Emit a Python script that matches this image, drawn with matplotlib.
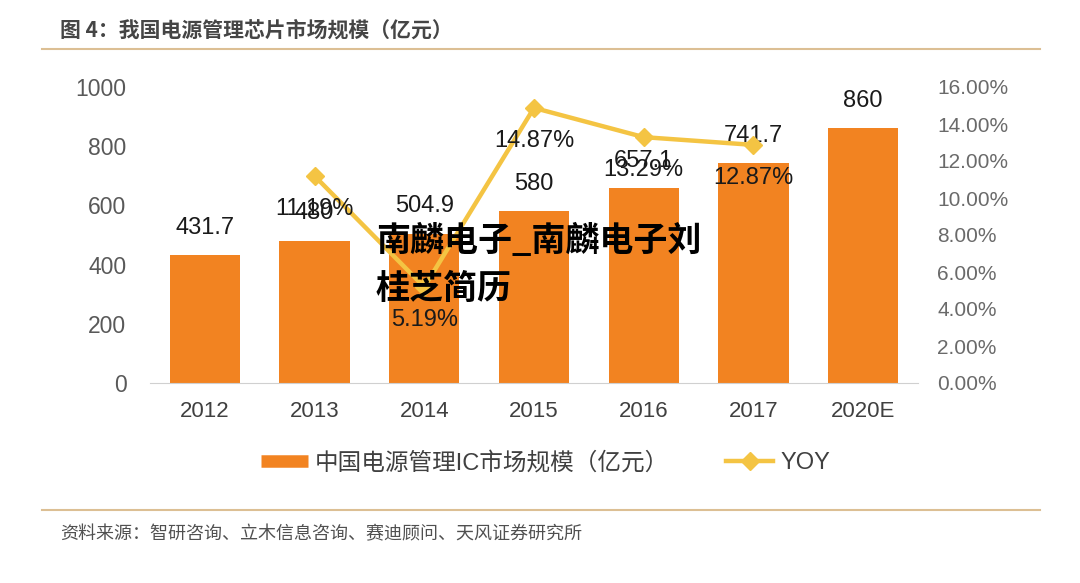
import matplotlib
matplotlib.use("Agg")
import matplotlib.pyplot as plt
from matplotlib.lines import Line2D

plt.rcParams['font.family'] = ['Liberation Sans', 'Noto Sans CJK SC', 'DejaVu Sans']

years = ["2012", "2013", "2014", "2015", "2016", "2017", "2020E"]
market = [431.7, 480, 504.9, 580, 657.1, 741.7, 860]
yoy_years = ["2013", "2014", "2015", "2016", "2017"]
yoy = [11.19, 5.19, 14.87, 13.29, 12.87]

bar_color = "#F28321"
line_color = "#F4C443"
cjk = ['Noto Sans CJK SC', 'DejaVu Sans']

fig = plt.figure(figsize=(10.8, 5.83), dpi=100)
ax = fig.add_axes([150/1080, 1-383/583, 768/1080, 296/583])
ax2 = ax.twinx()

x = list(range(len(years)))
ax.bar(x, market, width=0.64, color=bar_color, zorder=2)
for xi, v in zip(x, market):
    ax.annotate(f"{v:g}", (xi, v), xytext=(0, 12), textcoords="offset points",
                ha="center", va="bottom", fontsize=17, color="#1a1a1a", zorder=5)

ax.set_ylim(0, 1000)
ax.set_xlim(-0.5, len(years)-0.5)
ax.set_yticks([0, 200, 400, 600, 800, 1000])
ax.set_xticks(x)
ax.set_xticklabels(years)
ax.tick_params(axis="y", length=0, labelsize=16.5, labelcolor="#595959", pad=17)
ax.tick_params(axis="x", length=0, labelsize=16, labelcolor="#404040", pad=13)
for s in ["top", "right", "left"]:
    ax.spines[s].set_visible(False)
ax.spines["bottom"].set_color("#d0d0d0")

yx = [years.index(y) for y in yoy_years]
ax2.plot(yx, yoy, color=line_color, lw=3.2, marker="D", markersize=9,
         markerfacecolor=line_color, markeredgecolor=line_color, zorder=3)
for xi, v in zip(yx, yoy):
    ax2.annotate(f"{v:.2f}%", (xi, v), xytext=(0, -16), textcoords="offset points",
                 ha="center", va="top", fontsize=17, color="#1a1a1a")
ax2.set_ylim(0, 16)
ax2.set_yticks([0, 2, 4, 6, 8, 10, 12, 14, 16])
ax2.set_yticklabels([f"{t:.2f}%" for t in range(0, 17, 2)])
ax2.tick_params(axis="y", length=0, labelsize=15, labelcolor="#6a6a6a", pad=14)
for s in ["top", "right", "left", "bottom"]:
    ax2.spines[s].set_visible(False)

# legend
handles = [Line2D([0], [0], color=bar_color, lw=9, solid_capstyle="butt"),
           Line2D([0], [0], color=line_color, lw=3.2, marker="D", markersize=9)]
fig.legend(handles, ["中国电源管理IC市场规模（亿元）", "YOY"], loc="center",
           bbox_to_anchor=(0.505, 1-463/583), ncol=2, frameon=False,
           prop={"family": ['Liberation Sans', 'Noto Sans CJK SC'], "size": 17},
           labelcolor="#404040", handlelength=2.0, handletextpad=0.3, columnspacing=2.4)

# title and source
fig.text(60/1080, 1-30/583, "图 4：我国电源管理芯片市场规模（亿元）", fontsize=15,
         fontweight="bold", color="#454545", va="center", family=cjk)
fig.add_artist(Line2D([42/1080, 1040/1080], [1-49/583, 1-49/583], color="#dcbf94", lw=1.5))
fig.add_artist(Line2D([42/1080, 1040/1080], [1-510/583, 1-510/583], color="#dcbf94", lw=1.5))
fig.text(60/1080, 1-534/583, "资料来源：智研咨询、立木信息咨询、赛迪顾问、天风证券研究所", fontsize=13,
         color="#505050", va="center", family=cjk)

# watermark overlay
fig.text(376/1080, 1-241/583, "南麟电子_南麟电子刘", fontsize=24.5, fontweight="bold",
         color="black", va="center", family=cjk, zorder=10)
fig.text(376/1080, 1-288/583, "桂芝简历", fontsize=24.5, fontweight="bold",
         color="black", va="center", family=cjk, zorder=10)

fig.savefig("out.png", dpi=100)
